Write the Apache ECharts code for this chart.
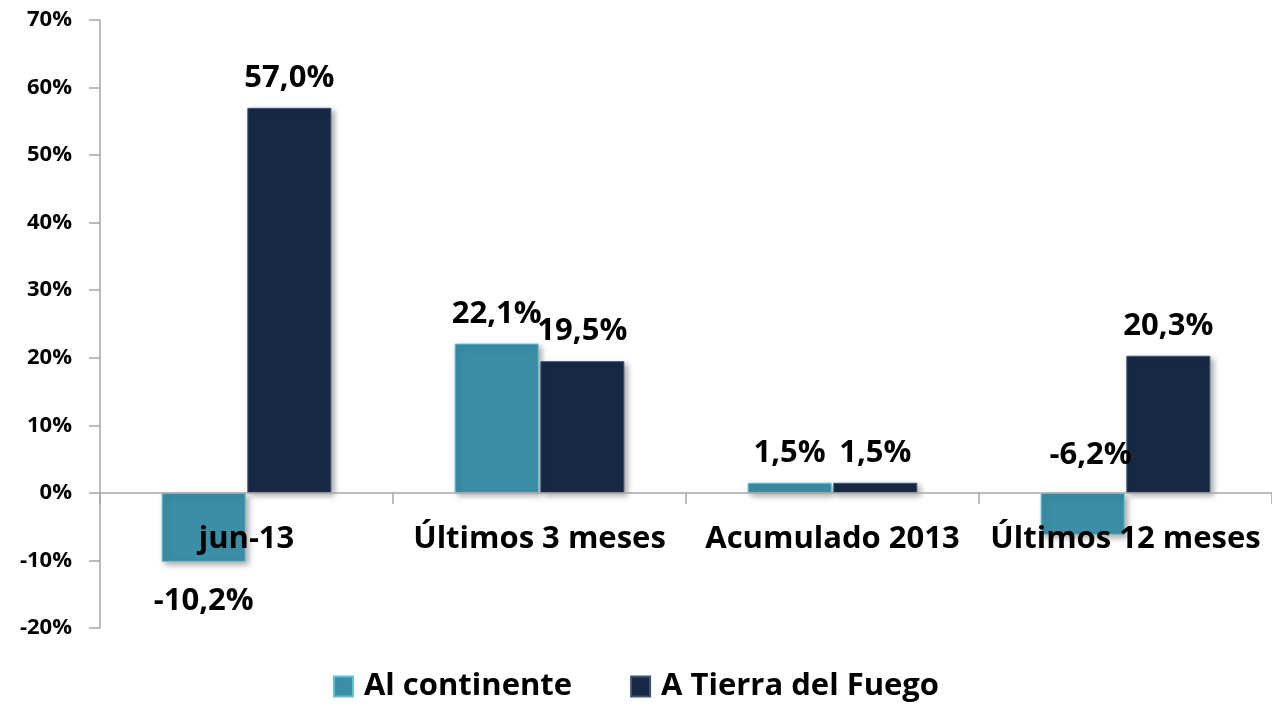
<!DOCTYPE html>
<html>
<head>
<meta charset="utf-8">
<script src="https://cdn.jsdelivr.net/npm/echarts@6/dist/echarts.min.js"></script>
<style>
  html, body { margin: 0; padding: 0; background: #fff; }
  #chart { width: 1272px; height: 704px; }
</style>
</head>
<body>
<div id="chart"></div>
<script>
// categorías y valores (%)
const categories = ['jun-13', 'Últimos 3 meses', 'Acumulado 2013', 'Últimos 12 meses']
const continente = [-10.2, 22.1, 1.5, -6.2]
const tierraFuego = [57.0, 19.5, 1.5, 20.3]
const yTicks = { min: -20, max: 70, interval: 10 }

const FONT = '"Open Sans", "Noto Sans", sans-serif'

function fmt(v) {
  return v.toFixed(1).replace('.', ',') + '%'
}

const chart = echarts.init(document.getElementById('chart'))

// etiquetas especiales: -10,2% más abajo, -6,2% arriba de la línea cero
const contData = continente.map((v, i) => {
  if (i === 0) {
    return { value: v, label: { distance: 24 } }
  }
  if (i === 3) {
    return { value: v, label: { position: 'top', distance: 22, offset: [8, 0] } }
  }
  return v
})

const labelBase = {
  show: true,
  position: 'outside',
  distance: 14,
  color: '#000',
  fontFamily: FONT,
  fontWeight: 'bold',
  fontSize: 31,
  formatter: p => fmt(p.value)
}

chart.setOption({
  animation: false,
  textStyle: { fontFamily: FONT },
  grid: {
    left: 100,
    right: -12,
    top: 20,
    bottom: 76,
    containLabel: false
  },
  legend: {
    bottom: -3,
    left: 'center',
    itemWidth: 19,
    itemHeight: 20,
    itemGap: 58,
    icon: 'rect',
    textStyle: {
      fontFamily: FONT,
      fontWeight: 'bold',
      fontSize: 31,
      color: '#000',
      padding: [0, 0, 0, 6]
    },
    data: ['Al continente', 'A Tierra del Fuego']
  },
  xAxis: {
    type: 'category',
    data: categories,
    z: 5,
    axisLine: { onZero: true, lineStyle: { color: '#a6a6a6', width: 1.5 } },
    axisTick: { show: true, length: 11, lineStyle: { color: '#a6a6a6', width: 1.5 } },
    axisLabel: {
      interval: 0,
      hideOverlap: false,
      margin: -104,
      color: '#000',
      fontFamily: FONT,
      fontWeight: 'bold',
      fontSize: 31
    }
  },
  yAxis: {
    type: 'value',
    min: yTicks.min,
    max: yTicks.max,
    interval: yTicks.interval,
    splitLine: { show: false },
    axisLine: { show: true, lineStyle: { color: '#a6a6a6', width: 1.5 } },
    axisTick: { show: true, length: 11, lineStyle: { color: '#a6a6a6', width: 1.5 } },
    axisLabel: {
      margin: 28,
      color: '#000',
      fontFamily: FONT,
      fontWeight: 'bold',
      fontSize: 22,
      formatter: '{value}%'
    }
  },
  series: [
    {
      name: 'Al continente',
      type: 'bar',
      data: contData,
      barWidth: 84,
      barGap: '2%',
      itemStyle: {
        color: '#3a8ea7',
        borderColor: '#62bfd8',
        borderWidth: 1,
        shadowColor: 'rgba(0,0,0,0.35)',
        shadowBlur: 6,
        shadowOffsetX: 3,
        shadowOffsetY: 3
      },
      label: labelBase,
      z: 2
    },
    {
      name: 'A Tierra del Fuego',
      type: 'bar',
      data: tierraFuego,
      barWidth: 84,
      itemStyle: {
        color: '#172944',
        borderColor: '#3d5577',
        borderWidth: 1,
        shadowColor: 'rgba(0,0,0,0.35)',
        shadowBlur: 6,
        shadowOffsetX: 3,
        shadowOffsetY: 3
      },
      label: labelBase,
      z: 2
    }
  ]
})
</script>
</body>
</html>
